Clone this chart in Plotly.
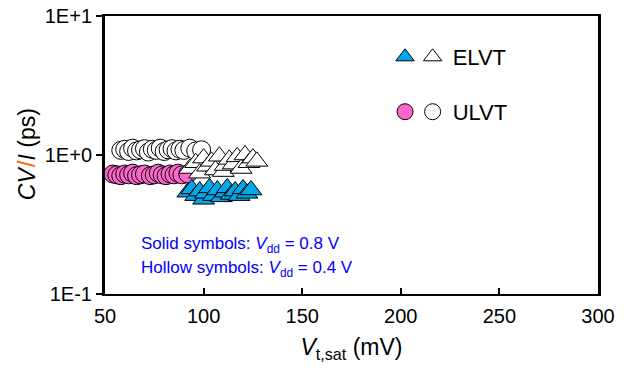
import plotly.graph_objects as go

# ---- data ----
elvt_solid_x = [92, 94, 96, 98, 100, 101, 103, 105, 107, 109, 111, 112, 114, 116, 118, 120, 122, 124]
elvt_solid_y = [0.54, 0.57, 0.51, 0.55, 0.48, 0.53, 0.58, 0.51, 0.56, 0.50, 0.54, 0.58, 0.52, 0.55, 0.51, 0.57, 0.53, 0.56]

elvt_hollow_x = [93, 96, 98, 100, 102, 104, 106, 108, 110, 111, 113, 115, 117, 119, 121, 123, 125, 127]
elvt_hollow_y = [0.80, 0.88, 0.74, 0.95, 0.83, 0.90, 0.78, 0.98, 0.76, 0.84, 0.93, 0.86, 0.97, 0.80, 1.00, 0.88, 0.95, 0.90]

ulvt_solid_x = [54, 56, 58, 60, 62, 64, 66, 68, 70, 73, 75, 77, 79, 81, 83, 85, 87, 89, 92]
ulvt_solid_y = [0.73, 0.72, 0.71, 0.73, 0.72, 0.74, 0.71, 0.72, 0.73, 0.71, 0.72, 0.74, 0.72, 0.71, 0.73, 0.72, 0.74, 0.72, 0.73]

ulvt_hollow_x = [58, 60, 62, 64, 66, 68, 70, 72, 74, 76, 78, 80, 82, 84, 86, 88, 90, 93, 96, 99]
ulvt_hollow_y = [1.08, 1.10, 1.06, 1.12, 1.07, 1.09, 1.11, 1.05, 1.10, 1.08, 1.12, 1.06, 1.09, 1.11, 1.07, 1.10, 1.08, 1.12, 1.07, 1.09]

y_tickvals = [0.1, 1, 10]
y_ticktext = ["1E-1", "1E+0", "1E+1"]
x_tickvals = [50, 100, 150, 200, 250, 300]

BLUE = "#00A8E8"
PINK = "#FF66CC"
ORANGE = "#FF6600"
FONT = "Liberation Sans, Arial, sans-serif"

fig = go.Figure()

def add(x, y, symbol, fill, name, legend, size):
    fig.add_trace(go.Scatter(
        x=x, y=y, mode="markers", name=name, legend=legend,
        marker=dict(symbol=symbol, size=size, color=fill,
                    line=dict(color="black", width=1)),
    ))

add(ulvt_hollow_x, ulvt_hollow_y, "circle", "white", "ULVT", "legend4", 18)
add(ulvt_solid_x, ulvt_solid_y, "circle", PINK, "", "legend3", 18)
add(elvt_hollow_x, elvt_hollow_y, "triangle-up", "white", "ELVT", "legend2", 19)
add(elvt_solid_x, elvt_solid_y, "triangle-up", BLUE, "", "legend", 19)

def leg(x, y):
    return dict(x=x, y=y, xanchor="left", yanchor="middle",
                font=dict(family=FONT, size=22, color="black"),
                bgcolor="rgba(0,0,0,0)", borderwidth=0)

def ytitle_part(text, y, color):
    return dict(xref="paper", yref="paper", x=-0.158, y=y, xanchor="center", yanchor="middle",
                textangle=-90, showarrow=False, text=text,
                font=dict(family=FONT, size=23, color=color))

fig.update_layout(
    width=627, height=368,
    margin=dict(l=105, r=29, t=16, b=74),
    paper_bgcolor="white", plot_bgcolor="white",
    font=dict(family=FONT, size=20, color="black"),
    showlegend=True,
    legend=leg(0.568, 0.8525),
    legend2=leg(0.624, 0.8525),
    legend3=leg(0.568, 0.655),
    legend4=leg(0.624, 0.655),
    xaxis=dict(
        range=[50, 300], tickvals=x_tickvals,
        showline=True, linecolor="black", linewidth=2, mirror=True,
        ticks="inside", ticklen=6, tickwidth=2, tickcolor="black",
        showgrid=False, zeroline=False, automargin=False,
        tickfont=dict(family=FONT, size=20), ticklabelstandoff=3,
        title=dict(text="<i>V</i><sub>t,sat</sub> (mV)", font=dict(family=FONT, size=23), standoff=13),
    ),
    yaxis=dict(
        type="log", range=[-1, 1], tickvals=y_tickvals, ticktext=y_ticktext,
        showline=True, linecolor="black", linewidth=3, mirror=True,
        ticks="outside", ticklen=6, tickwidth=2, tickcolor="black",
        showgrid=False, zeroline=False, automargin=False,
        ticklabeloverflow="allow",
        tickfont=dict(family=FONT, size=20),
    ),
    annotations=[
        ytitle_part("<i>CV</i>", 0.399, "#000000"),
        ytitle_part("/", 0.468, ORANGE),
        ytitle_part("<i>I</i> (ps)", 0.574, "#000000"),
        dict(xref="paper", yref="paper", x=0.068, y=0.176, xanchor="left", yanchor="middle",
             showarrow=False, text="Solid symbols: <i>V</i><sub>dd</sub> = 0.8 V",
             font=dict(family=FONT, size=17, color="#0000FF")),
        dict(xref="paper", yref="paper", x=0.068, y=0.09, xanchor="left", yanchor="middle",
             showarrow=False, text="Hollow symbols: <i>V</i><sub>dd</sub> = 0.4 V",
             font=dict(family=FONT, size=17, color="#0000FF")),
    ],
)

fig.write_html("out.html", config={"displayModeBar": False},
               post_script="document.body.style.margin='0px';")
